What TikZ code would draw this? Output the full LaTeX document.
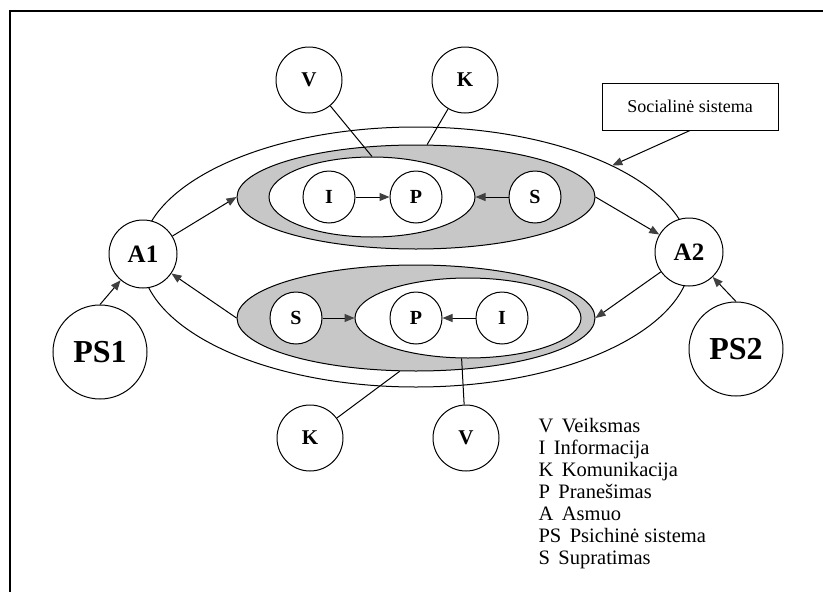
\documentclass[tikz,border=0pt]{standalone}
\usepackage{fontspec}
\setmainfont{Liberation Serif}
\usetikzlibrary{shapes.geometric,arrows.meta}
\begin{document}
\begin{tikzpicture}[x=1pt,y=-1pt,line width=1pt,
  circ/.style={circle,draw,fill=white,inner sep=0pt,font=\bfseries\fontsize{20}{24}\selectfont},
  smallc/.style={circ,minimum size=52pt},
  midc/.style={circ,minimum size=66pt,font=\bfseries\fontsize{21}{24}\selectfont},
  anode/.style={circ,minimum size=68pt,font=\bfseries\fontsize{25}{30}\selectfont},
  psnode/.style={circ,minimum size=94pt,font=\bfseries\fontsize{32}{36}\selectfont},
  ell/.style={ellipse,draw,inner sep=0pt},
  shadedell/.style={ell,fill=black!22},
  whiteell/.style={ell,fill=white},
  arr/.style={-{Triangle[length=10pt,width=8pt,color=black!75]}},
  legend/.style={anchor=base west,inner sep=0pt,font=\fontsize{20.5}{22}\selectfont},
  ]
\useasboundingbox (0,0) rectangle (823,592);
\clip (0,0) rectangle (823,592);
\fill[white] (0,0) rectangle (823,592);
\draw[line width=2pt] (10,600) -- (10,11) -- (830,11);

% outer social system ellipse
\node[whiteell,minimum width=550pt,minimum height=260pt] (soc) at (416,257) {};

% top group
\node[shadedell,minimum width=358pt,minimum height=104pt] (topS) at (416,197) {};
\node[whiteell,minimum width=206pt,minimum height=80pt] (topW) at (372,197) {};
\node[smallc] (tI) at (329,197) {I};
\node[smallc] (tP) at (416,197) {P};
\node[smallc] (tS) at (535,197) {S};
\draw[arr] (tI) -- (tP);
\draw[arr] (tS) -- (topW.east);

% bottom group
\node[shadedell,minimum width=358pt,minimum height=106pt] (botS) at (416,318) {};
\node[whiteell,minimum width=226pt,minimum height=80pt] (botW) at (468,318) {};
\node[smallc] (bS) at (296,318) {S};
\node[smallc] (bP) at (416,318) {P};
\node[smallc] (bI) at (502,318) {I};
\draw[arr] (bS) -- (botW.west);
\draw[arr] (bI) -- (bP);

% V and K circles
\node[midc] (tV) at (309,80) {V};
\node[midc] (tK) at (465,80) {K};
\node[midc] (bK) at (310,438) {K};
\node[midc] (bV) at (466,438) {V};
\draw (tV) -- (topW.north);
\draw (tK) -- (topS.78);
\draw (bK) -- (botS.253);
\draw (bV) -- (botW.261);

% persons
\node[anode] (A1) at (143,254) {A1};
\node[anode] (A2) at (689,252) {A2};
\node[psnode] (PS1) at (100,352) {PS1};
\node[psnode] (PS2) at (736,349) {PS2};

\draw[arr] (A1) -- (topS.west);
\draw[arr] (topS.east) -- (A2);
\draw[arr] (A2) -- (botS.east);
\draw[arr] (botS.west) -- (A1);
\draw[arr] (PS1.north) -- (A1);
\draw[arr] (PS2.north) -- (A2);

% social system label
\node[draw,fill=white,minimum width=176pt,minimum height=47pt,inner sep=0pt,
      font=\fontsize{18}{20}\selectfont] (box) at (690,106.5) {Socialinė sistema};
\draw[arr] (box.south) -- (soc.25);

% legend
\node[legend] (leg1) at (538,432) {V\ \,Veiksmas};
\node[legend] (leg2) at (538,454) {I\ \,Informacija};
\node[legend] (leg3) at (538,476) {K\ \,Komunikacija};
\node[legend] (leg4) at (538,498) {P\ \,Pranešimas};
\node[legend] (leg5) at (538,520) {A\ \,Asmuo};
\node[legend] (leg6) at (538,542) {PS\ \,Psichinė sistema};
\node[legend] (leg7) at (538,564) {S\ \,Supratimas};
\end{tikzpicture}
\end{document}
